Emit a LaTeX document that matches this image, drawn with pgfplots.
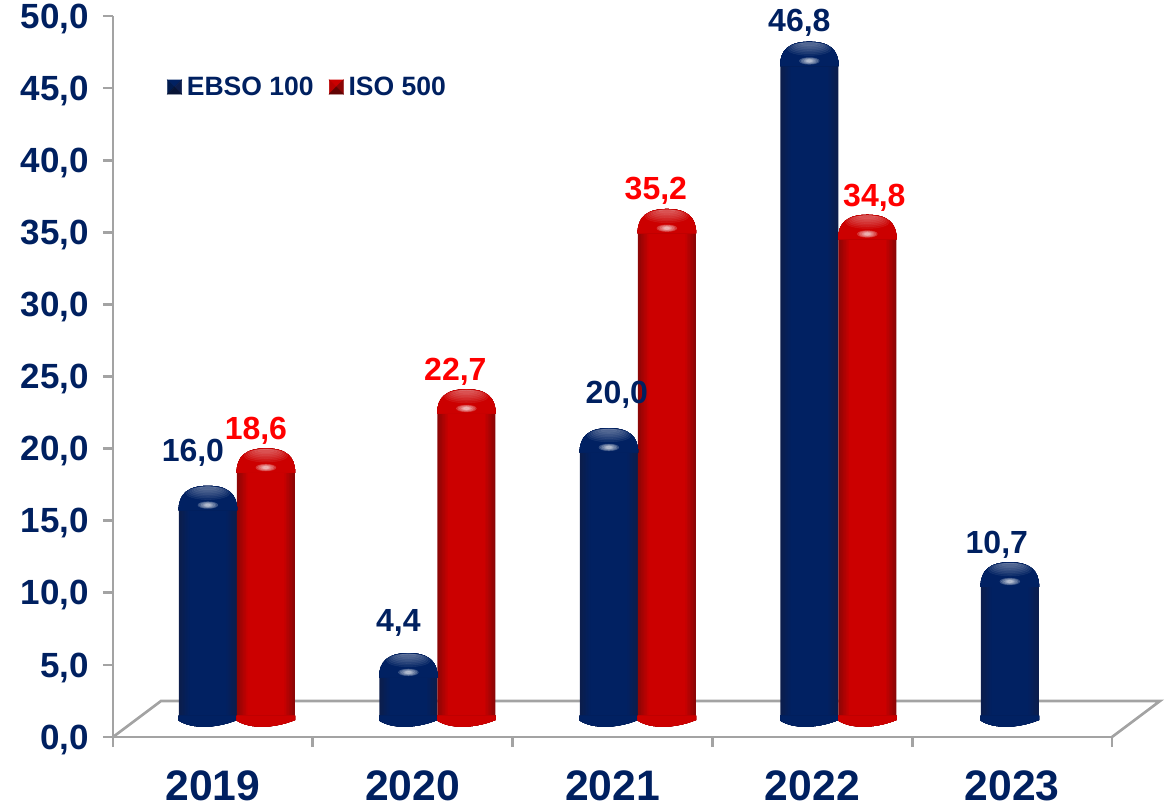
\documentclass[border=0pt]{standalone}
\usepackage{pgfplots}
\usepackage{pgfplotstable}
\usepackage{fontspec}
\setmainfont{Liberation Sans}
\pgfplotsset{compat=1.18}

\definecolor{navy}{HTML}{002060}
\definecolor{gridgrey}{HTML}{A3A3A3}
\definecolor{bluemid}{HTML}{012162}
\definecolor{bluedark}{HTML}{0C1D4C}
\definecolor{redmid}{HTML}{CC0000}
\definecolor{reddark}{HTML}{8C0606}

% rounded top of a cylinder, origin at the apex: nested fills give the roundness
\newcommand{\cylcap}[2]{%
  \begin{scope}[x=.75pt,y=.75pt]
  \foreach \f/\p in {1/0,.948/14,.897/29,.845/43,.793/57,.741/71,.69/86,.638/100}{
    \fill[#1!\p!#2,xscale=\f] (-29,-24) .. controls (-29,-8) and (-20,0) .. (0,0)
       .. controls (20,0) and (29,-8) .. (29,-24) -- cycle;
  }
  \foreach \a/\b/\c in {7/22/6.5,6.2/20/5.6,5.4/18/4.8,4.6/16/4,3.8/14/3.2,3/11/2.4,2.2/8/1.7}{
    \fill[white,opacity=.055] (0,-\a) ellipse [x radius=\b,y radius=\c];
  }
  \foreach \a/\b in {10/3.4,8.5/2.9,7/2.5,5.5/2.0,4.2/1.6,3.2/1.3,2.2/0.9}{
    \fill[white,opacity=.15] (0,-19) ellipse [x radius=\a,y radius=\b];
  }
  \end{scope}}
% lower rim of a cylinder, origin at the base level
\newcommand{\cylfoot}[2]{%
  \begin{scope}[x=.75pt,y=.75pt]
  \foreach \f/\p in {1/0,.948/14,.897/29,.845/43,.793/57,.741/71,.69/86,.638/100}{
    \fill[#1!\p!#2,xscale=\f] (-29,1) -- (-29,-3.6) .. controls (-16,-12) and (8,-11.5)
       .. (29,-3) -- (29,1) -- cycle;
  }
  \end{scope}}
\pgfdeclareplotmark{bluecap}{\cylcap{bluemid}{bluedark}}
\pgfdeclareplotmark{redcap}{\cylcap{redmid}{reddark}}
\pgfdeclareplotmark{bluefoot}{\cylfoot{bluemid}{bluedark}}
\pgfdeclareplotmark{redfoot}{\cylfoot{redmid}{reddark}}

% year, value
\pgfplotstableread{
x v
0 16.0
1 4.4
2 20.0
3 46.8
4 10.7
}\ebso
\pgfplotstableread{
x v
0 18.6
1 22.7
2 35.2
3 34.8
}\iso

% one tone of the cylinder bodies: width, share of mid colour, mid, dark, shift, table
\newcommand{\bodytone}[6]{%
  \addplot[ybar, bar width=#1pt, bar shift=#5, draw=none, fill=#3!#2!#4,
    y filter/.expression={y-1.6}, forget plot] table[x=x,y=v] {#6};
}
% cylinders of one series: mid, dark, shift, table, mark prefix
\newcommand{\cylinders}[5]{%
  \bodytone{43.5}{0}{#1}{#2}{#3}{#4}
  \bodytone{41.25}{14}{#1}{#2}{#3}{#4}
  \bodytone{39}{29}{#1}{#2}{#3}{#4}
  \bodytone{36.75}{43}{#1}{#2}{#3}{#4}
  \bodytone{34.5}{57}{#1}{#2}{#3}{#4}
  \bodytone{32.25}{71}{#1}{#2}{#3}{#4}
  \bodytone{30}{86}{#1}{#2}{#3}{#4}
  \bodytone{27.75}{100}{#1}{#2}{#3}{#4}
  \addplot[only marks, mark=#5cap, mark options={xshift=#3}, forget plot] table[x=x,y=v] {#4};
  \addplot[only marks, mark=#5foot, mark options={xshift=#3}, forget plot] table[x=x,y expr=0] {#4};
}
% one value label: year, value, colour, bar shift, offset from the apex in px
\newcommand{\valuelabel}[6]{%
  \addplot[draw=none, mark=none, forget plot, nodes near coords,
    nodes near coords style={anchor=base, inner sep=0pt, text=#3,
      font=\fontsize{24}{26}\selectfont\bfseries,
      xshift=#4+#5*.75pt, yshift=#6*.75pt}]
    coordinates {(#1,#2)};
}
% pyramid-shaded legend square
\newcommand{\lgd}[4]{%
  \fill[#1] (0,5.25pt) -- (10.5pt,5.25pt) -- (5.25pt,0pt) -- cycle;
  \fill[#2] (0,-5.25pt) -- (0,5.25pt) -- (5.25pt,0pt) -- cycle;
  \fill[#3] (10.5pt,-5.25pt) -- (10.5pt,5.25pt) -- (5.25pt,0pt) -- cycle;
  \fill[#4] (0,-5.25pt) -- (10.5pt,-5.25pt) -- (5.25pt,0pt) -- cycle;
  \path (14.25pt,0pt);
}

\begin{document}
\begin{tikzpicture}[x=.75pt,y=.75pt]
\path[use as bounding box] (0,0) rectangle (1173,809);

% back wall axis and value scale
\begin{axis}[
  at={(84.75pt,54pt)}, anchor=south west,
  scale only axis, width=749.25pt, height=540.75pt,
  xmin=-0.5, xmax=4.5, ymin=0, ymax=50,
  axis lines=left, axis line style={-,gridgrey,line width=2pt},
  tick align=outside, major tick length=7.5pt,
  tick style={gridgrey,line width=2pt},
  /pgf/number format/assume math mode=true,
  /pgf/number format/.cd, fixed, fixed zerofill, precision=1, use comma, /pgfplots/.cd,
  ytick={0,5,...,50},
  yticklabel style={font=\fontsize{26.25}{28}\selectfont\bfseries, text=navy, xshift=-7pt, yshift=-2pt},
  xtick={-0.5,0.5,...,4.5}, xticklabels={},
  extra x ticks={0,1,2,3,4},
  extra x tick labels={2019,2020,2021,2022,2023},
  extra x tick style={
    major tick length=0pt,
    xticklabel style={font=\fontsize{32}{34}\selectfont\bfseries, text=navy, anchor=base, yshift=-48pt}},
  clip=false,
]
\end{axis}

% floor of the chart
\draw[gridgrey,line width=2pt,line join=miter]
  (113,72) -- (161,108) -- (1160,108) -- (1112,72);

% cylinders
\begin{axis}[
  at={(84.75pt,54pt)}, anchor=south west,
  scale only axis, width=749.25pt, height=540.75pt,
  xmin=-0.618, xmax=4.365, ymin=-1.40, ymax=48.60,
  hide axis, clip=false,
  /pgf/number format/assume math mode=true,
  /pgf/number format/.cd, fixed, fixed zerofill, precision=1, use comma, /pgfplots/.cd,
  legend columns=2,
  legend cell align=left,
  legend style={at={(0.0541,0.9015)}, anchor=west, draw=none, fill=none, inner sep=0pt,
    nodes={inner xsep=0pt, inner ysep=0pt},
    font=\fontsize{19.9}{22}\selectfont\bfseries, text=navy,
    /tikz/every even column/.append style={column sep=11.5pt}},
]
\cylinders{bluemid}{bluedark}{-21.75pt}{\ebso}{blue}
\cylinders{redmid}{reddark}{21.75pt}{\iso}{red}
\valuelabel{0}{16.0}{navy}{-21.75pt}{-15}{24.5}
\valuelabel{1}{4.4}{navy}{-21.75pt}{-10}{21.5}
\valuelabel{2}{20.0}{navy}{-21.75pt}{8}{24.5}
\valuelabel{3}{46.8}{navy}{-21.75pt}{-10}{10.5}
\valuelabel{4}{10.7}{navy}{-21.75pt}{-13}{9.5}
\valuelabel{0}{18.6}{red}{21.75pt}{-10}{9.5}
\valuelabel{1}{22.7}{red}{21.75pt}{-11}{8.5}
\valuelabel{2}{35.2}{red}{21.75pt}{-11}{9.5}
\valuelabel{3}{34.8}{red}{21.75pt}{7}{8.5}
\addlegendimage{legend image code/.code={\lgd{bluemid}{bluemid!80!black}{bluedark}{bluedark!70!black}}}
\addlegendentry{EBSO 100}
\addlegendimage{legend image code/.code={\lgd{redmid}{redmid!90!black}{reddark}{reddark!70!black}}}
\addlegendentry{ISO 500}
\end{axis}

\end{tikzpicture}
\end{document}
